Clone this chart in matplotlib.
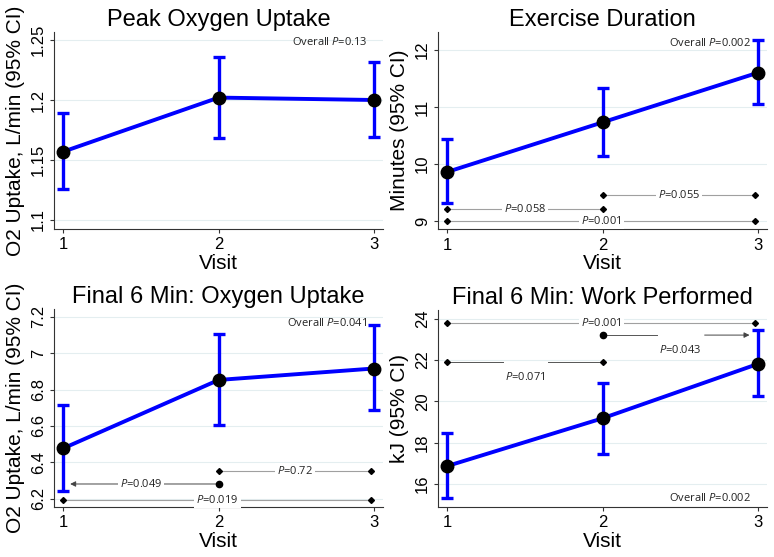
import matplotlib.pyplot as plt

# data
visits = [1, 2, 3]

titles = ["Peak Oxygen Uptake", "Exercise Duration",
          "Final 6 Min: Oxygen Uptake", "Final 6 Min: Work Performed"]
ylabels = ["O2 Uptake, L/min (95% CI)", "Minutes (95% CI)",
           "O2 Uptake, L/min (95% CI)", "kJ (95% CI)"]

peak_mean = [1.157, 1.202, 1.200]
peak_lo = [1.126, 1.168, 1.169]
peak_hi = [1.189, 1.236, 1.232]

dur_mean = [9.86, 10.73, 11.60]
dur_lo = [9.32, 10.14, 11.05]
dur_hi = [10.43, 11.34, 12.18]

f6o2_mean = [6.477, 6.853, 6.916]
f6o2_lo = [6.243, 6.604, 6.687]
f6o2_hi = [6.713, 7.108, 7.156]

work_mean = [16.87, 19.18, 21.81]
work_lo = [15.33, 17.47, 20.26]
work_hi = [18.48, 20.89, 23.44]

overall_p = ["0.13", "0.002", "0.041", "0.002"]

yticks = [[1.1, 1.15, 1.2, 1.25], [9, 10, 11, 12],
          [6.2, 6.4, 6.6, 6.8, 7, 7.2], [16, 18, 20, 22, 24]]
yticklabels = [["1.1", "1.15", "1.2", "1.25"], ["9", "10", "11", "12"],
               ["6.2", "6.4", "6.6", "6.8", "7", "7.2"],
               ["16", "18", "20", "22", "24"]]
ylims = [(1.0925, 1.2569), (8.849, 12.32), (6.154, 7.246), (14.89, 24.44)]

# pairwise comparisons: (from visit, to visit, y level, p label)
pairs = [
    [],
    [(1, 2, 9.21, "0.058"), (2, 3, 9.46, "0.055"), (1, 3, 9.0, "0.001")],
    [(2, 1, 6.28, "0.049"), (2, 3, 6.352, "0.72"), (1, 3, 6.194, "0.019")],
    [(1, 3, 23.81, "0.001"), (2, 3, 23.21, "0.043"), (1, 2, 21.89, "0.071")],
]

means = [peak_mean, dur_mean, f6o2_mean, work_mean]
los = [peak_lo, dur_lo, f6o2_lo, work_lo]
his = [peak_hi, dur_hi, f6o2_hi, work_hi]

plt.rcParams['font.family'] = ['Liberation Sans', 'DejaVu Sans']
plt.rcParams['mathtext.fontset'] = 'custom'
plt.rcParams['mathtext.it'] = 'Open Sans:italic'
plt.rcParams['mathtext.rm'] = 'Open Sans'
note_font = 'Open Sans'

fig = plt.figure(figsize=(7.74, 5.57), dpi=100)
positions = [[0.070, 0.589, 0.425, 0.354],
             [0.566, 0.588, 0.425, 0.355],
             [0.070, 0.090, 0.425, 0.356],
             [0.566, 0.090, 0.425, 0.354]]


def ptext(ax, x, y, p, ha='center', va='center', box=False, fs=8, prefix=""):
    s = prefix + r"$\it{P}$" + "=" + p
    kw = {}
    if box:
        kw['bbox'] = dict(facecolor='white', edgecolor='none', pad=1.5)
    ax.text(x, y, s, ha=ha, va=va, fontsize=fs, family=note_font,
            color='#222222', zorder=4, **kw)


for i in range(4):
    ax = fig.add_axes(positions[i])
    m, lo, hi = means[i], los[i], his[i]
    ylo = [a - b for a, b in zip(m, lo)]
    yhi = [b - a for a, b in zip(m, hi)]

    for yt in yticks[i]:
        ax.axhline(yt, color='#e4eef0', lw=0.8, zorder=0)

    ax.errorbar(visits, m, yerr=[ylo, yhi], fmt='none', ecolor='#0000ff',
                elinewidth=2.4, capsize=4, capthick=2.4, zorder=3)
    ax.plot(visits, m, color='#0000ff', lw=2.8, zorder=3)
    ax.plot(visits, m, 'o', color='black', ms=9, zorder=5)

    # pairwise comparison lines
    for (a, b, y, p) in pairs[i]:
        xa = a
        xb = b if b != 3 else 2.985
        if i == 2 and a == 2 and b == 1:
            # dot at visit 2, arrow to visit 1
            ax.annotate("", xy=(1.025, y), xytext=(2, y),
                        arrowprops=dict(arrowstyle='-|>', color='#444444',
                                        lw=0.7, mutation_scale=8), zorder=2)
            ax.plot([2], [y], 'o', color='black', ms=4.5, zorder=4)
            ptext(ax, 1.5, y, p, box=True)
        elif i == 3 and a == 2 and b == 3:
            # gap in the line, arrow to visit 3, label below
            ax.plot([2, 2.35], [y, y], color='#555555', lw=0.7, zorder=2)
            ax.annotate("", xy=(2.965, y), xytext=(2.64, y),
                        arrowprops=dict(arrowstyle='-|>', color='#444444',
                                        lw=0.7, mutation_scale=8), zorder=2)
            ax.plot([2], [y], 'o', color='black', ms=4.5, zorder=4)
            ptext(ax, 2.5, y - 0.71, p)
        elif i == 3 and a == 1 and b == 2:
            ax.plot([1, 1.36], [y, y], color='#555555', lw=0.7, zorder=2)
            ax.plot([1.65, 2], [y, y], color='#555555', lw=0.7, zorder=2)
            ax.plot([1, 2], [y, y], 'D', color='black', ms=3, lw=0, zorder=4)
            ptext(ax, 1.5, y - 0.71, p)
        else:
            ax.plot([xa, xb], [y, y], color='#a0a0a0', lw=0.8, zorder=2)
            ax.plot([xa, xb], [y, y], 'D', color='black', ms=3, lw=0,
                    zorder=4)
            ptext(ax, (xa + xb) / 2, y, p, box=True)

    # overall p value
    if i == 3:
        ptext(ax, 2.96, 15.33, overall_p[i], ha='right', prefix="Overall ")
    else:
        ytop = [1.2485, 12.13, 7.165][i]
        ptext(ax, 2.96, ytop, overall_p[i], ha='right', prefix="Overall ")

    ax.set_xlim(0.94, 3.06)
    ax.set_ylim(*ylims[i])
    ax.set_xticks(visits)
    ax.set_xticklabels(["1", "2", "3"], fontsize=12)
    ax.set_yticks(yticks[i])
    ax.set_yticklabels(yticklabels[i], fontsize=12, rotation=90,
                       va='center')
    ax.tick_params(axis='both', length=3, width=0.8, color='#333333',
                   pad=3)
    ax.spines['top'].set_visible(False)
    ax.spines['right'].set_visible(False)
    ax.spines['left'].set_color('#333333')
    ax.spines['bottom'].set_color('#333333')
    ax.set_xlabel("Visit", fontsize=15, labelpad=1)
    ax.set_ylabel(ylabels[i], fontsize=15, labelpad=4)
    ax.set_title(titles[i], fontsize=17, pad=4)

fig.savefig("out.png", dpi=100)
